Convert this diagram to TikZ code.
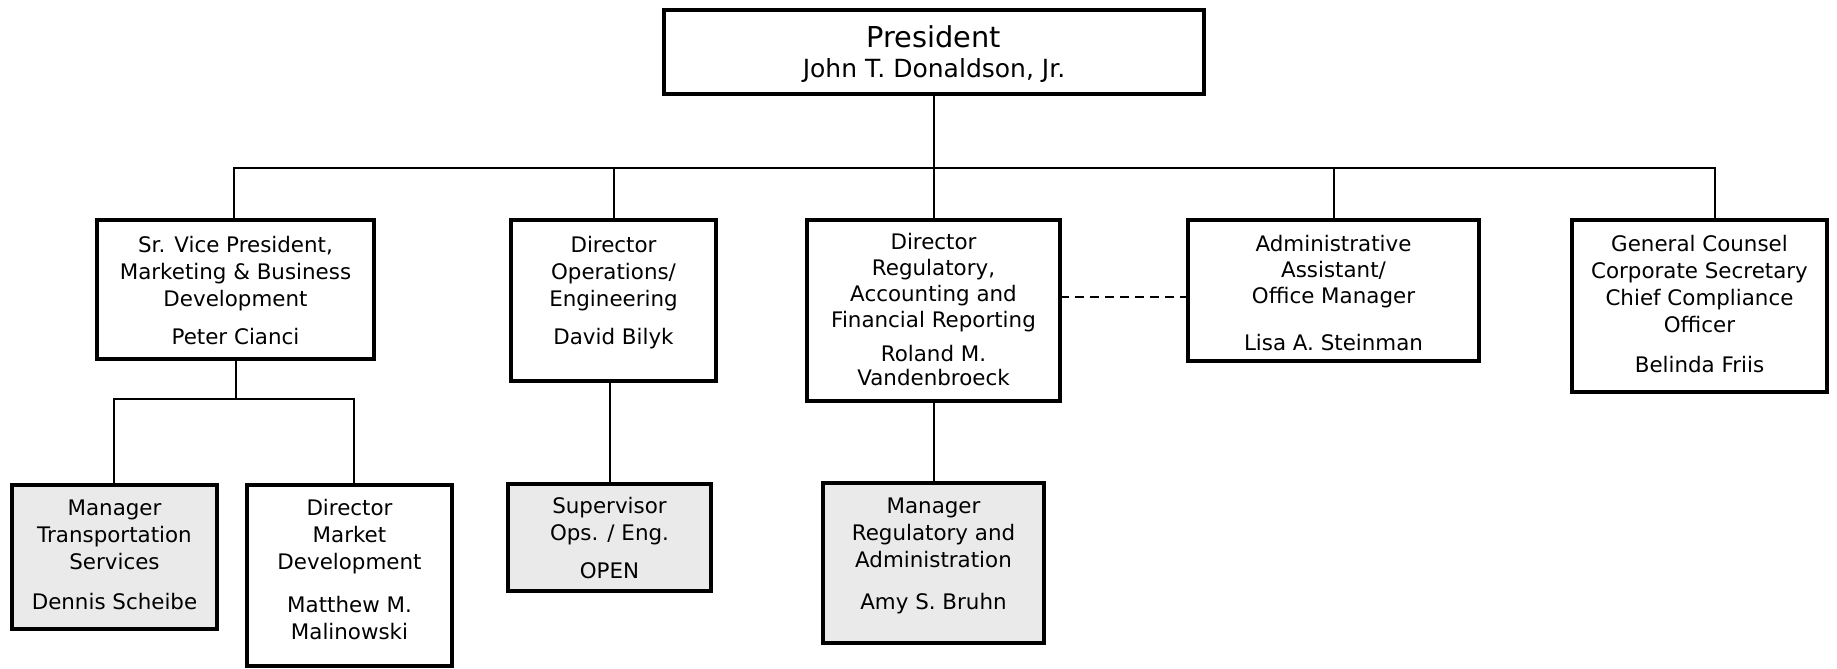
\documentclass[tikz,border=0pt]{standalone}
\usepackage{fontspec}
\setmainfont{DejaVu Sans}
\definecolor{boxgray}{HTML}{EAEAEA}
\tikzset{
  box/.style={draw, line width=2pt, inner sep=0pt, outer sep=0pt, fill=white},
  graybox/.style={box, fill=boxgray},
  conn/.style={line width=1pt},
  dashconn/.style={line width=1pt, dash pattern=on 4.5pt off 3pt},
  txt/.style={anchor=base, inner sep=0pt, font=\fontsize{10.7}{13.5}\selectfont},
  txttight/.style={txt, font=\fontsize{10.7}{13}\selectfont},
}
\newcommand{\tb}[1]{\begin{tabular}[t]{@{}c@{}}#1\end{tabular}}
\begin{document}
\begin{tikzpicture}[x=0.5pt, y=-0.5pt]
\useasboundingbox (0,0) rectangle (1837,669);

% boxes
\node[box, minimum width=270pt, minimum height=42pt] (pres) at (934,52) {};
\node[box, minimum width=138.5pt, minimum height=69.5pt] (b1) at (235.5,289.5) {};
\node[box, minimum width=102.5pt, minimum height=80.5pt] (b2) at (613.5,300.5) {};
\node[box, minimum width=126.5pt, minimum height=90.5pt] (b3) at (933.5,310.5) {};
\node[box, minimum width=145.5pt, minimum height=70.5pt] (b4) at (1333.5,290.5) {};
\node[box, minimum width=127.5pt, minimum height=86pt] (b5) at (1699.5,306) {};
\node[graybox, minimum width=102.5pt, minimum height=72pt] (b6) at (114.5,557) {};
\node[box, minimum width=102.5pt, minimum height=90.5pt] (b7) at (349.5,575.5) {};
\node[graybox, minimum width=101.5pt, minimum height=53.5pt] (b8) at (609.5,537.5) {};
\node[graybox, minimum width=110.5pt, minimum height=80pt] (b9) at (933.5,563) {};

% connector coordinates
\coordinate (busL) at (233.5,168);
\coordinate (busR) at (1715,168);
\coordinate (bus2) at (614,168);
\coordinate (bus3) at (933.5,168);
\coordinate (bus4) at (1334,168);
\coordinate (s1) at (235.7,399);
\coordinate (sbL) at (114,399);
\coordinate (sbR) at (354,399);
\coordinate (dy) at (0,297);

% connectors
\draw[conn] (pres.south -| bus3) -- (bus3);
\draw[conn] (busL |- b1.north) -- (busL) -- (busR) -- (busR |- b5.north);
\draw[conn] (bus2) -- (bus2 |- b2.north);
\draw[conn] (bus3) -- (bus3 |- b3.north);
\draw[conn] (bus4) -- (bus4 |- b4.north);
\draw[conn] (b1.south -| s1) -- (s1);
\draw[conn] (b6.north -| sbL) -- (sbL) -- (sbR) -- (sbR |- b7.north);
\draw[conn] (b2.south -| b8.north) -- (b8.north);
\draw[conn] (b3.south) -- (b9.north);
\draw[dashconn] (b3.east |- dy) -- (b4.west |- dy);

% redraw box borders on top
\foreach \n in {pres,b1,b2,b3,b4,b5,b6,b7,b8,b9}{
  \draw[line width=2pt] (\n.south west) rectangle (\n.north east);
}

% texts
\node[anchor=base, inner sep=0pt, font=\fontsize{14.4}{17}\selectfont] (pt1) at (934,47) {President};
\node[anchor=base, inner sep=0pt, font=\fontsize{12.5}{15}\selectfont] (pt2) at (934,77) {John T. Donaldson, Jr.};

\node[txt] (t1) at (235.5,252) {\tb{Sr. Vice President,\\Marketing \& Business\\Development\\[5.5pt]Peter Cianci}};
\node[txt] (t2) at (613.5,252) {\tb{Director\\Operations/\\Engineering\\[5.5pt]David Bilyk}};
\node[txttight] (t3) at (933.5,249) {\tb{Director\\Regulatory,\\Accounting and\\Financial Reporting\\[4pt]Roland M.\\[-1pt]Vandenbroeck}};
\node[txttight] (t4) at (1333.5,251) {\tb{Administrative\\Assistant/\\Office Manager\\[10.5pt]Lisa A. Steinman}};
\node[txt] (t5) at (1699.5,251) {\tb{General Counsel\\Corporate Secretary\\Chief Compliance\\Officer\\[6.5pt]Belinda Friis}};
\node[txt] (t6) at (114.5,515) {\tb{Manager\\Transportation\\Services\\[6.5pt]Dennis Scheibe}};
\node[txt] (t7) at (349.5,515) {\tb{Director\\Market\\Development\\[8pt]Matthew M.\\Malinowski}};
\node[txt] (t8) at (609.5,513) {\tb{Supervisor\\Ops. / Eng.\\[5.5pt]OPEN}};
\node[txt] (t9) at (933.5,513) {\tb{Manager\\Regulatory and\\Administration\\[7.5pt]Amy S. Bruhn}};
\end{tikzpicture}
\end{document}
